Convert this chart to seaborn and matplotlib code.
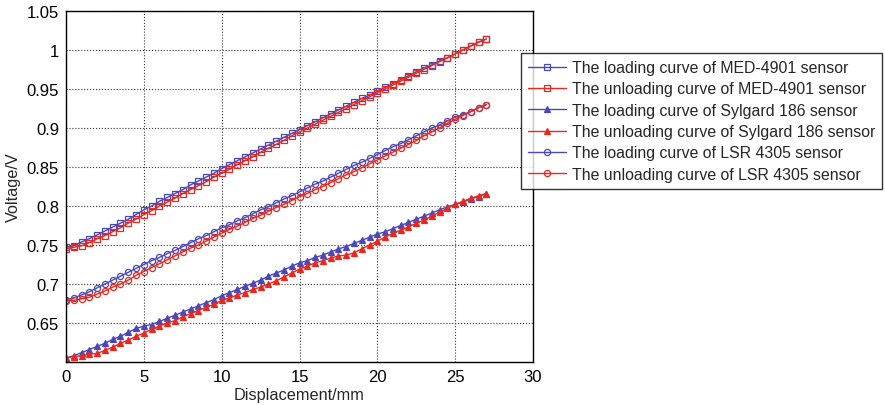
import numpy as np
import pandas as pd
import matplotlib
matplotlib.use("Agg")
import matplotlib.pyplot as plt
import seaborn as sns

disp = [i * 0.5 for i in range(55)]  # 0 .. 27 mm

med_load = [0.747, 0.749, 0.754, 0.758, 0.763, 0.768, 0.773, 0.778, 0.783, 0.789,
            0.795, 0.800, 0.806, 0.811, 0.816, 0.821, 0.827, 0.832, 0.837, 0.842,
            0.848, 0.853, 0.858, 0.863, 0.868, 0.873, 0.878, 0.883, 0.888, 0.893,
            0.898, 0.903, 0.908, 0.913, 0.918, 0.923, 0.928, 0.933, 0.938, 0.942,
            0.947, 0.952, 0.957, 0.962, 0.967, 0.972, 0.977, 0.981, 0.986, 0.990,
            0.995, 1.000, 1.005, 1.010, 1.014]
med_unload = [0.745, 0.747, 0.749, 0.753, 0.758, 0.762, 0.767, 0.772, 0.778, 0.783,
              0.789, 0.794, 0.800, 0.805, 0.810, 0.816, 0.821, 0.826, 0.831, 0.837,
              0.842, 0.847, 0.853, 0.858, 0.863, 0.869, 0.874, 0.879, 0.884, 0.890,
              0.895, 0.900, 0.905, 0.910, 0.915, 0.920, 0.925, 0.930, 0.935, 0.940,
              0.945, 0.950, 0.955, 0.960, 0.965, 0.970, 0.975, 0.980, 0.985, 0.990,
              0.995, 1.000, 1.005, 1.010, 1.014]
syl_load = [0.605, 0.608, 0.612, 0.616, 0.620, 0.624, 0.629, 0.633, 0.638, 0.643,
            0.646, 0.648, 0.652, 0.656, 0.660, 0.664, 0.668, 0.672, 0.676, 0.680,
            0.685, 0.689, 0.693, 0.697, 0.701, 0.705, 0.710, 0.714, 0.718, 0.723,
            0.727, 0.730, 0.734, 0.737, 0.741, 0.745, 0.748, 0.752, 0.756, 0.760,
            0.764, 0.767, 0.771, 0.775, 0.779, 0.783, 0.787, 0.791, 0.795, 0.799,
            0.802, 0.805, 0.809, 0.812, 0.816]
syl_unload = [0.605, 0.607, 0.608, 0.610, 0.611, 0.615, 0.619, 0.624, 0.628, 0.633,
              0.637, 0.642, 0.646, 0.650, 0.653, 0.658, 0.662, 0.666, 0.670, 0.674,
              0.679, 0.682, 0.686, 0.689, 0.693, 0.696, 0.700, 0.704, 0.709, 0.714,
              0.719, 0.723, 0.727, 0.730, 0.733, 0.736, 0.737, 0.740, 0.745, 0.750,
              0.755, 0.760, 0.765, 0.769, 0.773, 0.778, 0.782, 0.787, 0.792, 0.797,
              0.802, 0.806, 0.810, 0.813, 0.816]
lsr_load = [0.679, 0.682, 0.686, 0.690, 0.695, 0.700, 0.705, 0.710, 0.715, 0.720,
            0.725, 0.730, 0.734, 0.739, 0.743, 0.748, 0.753, 0.758, 0.762, 0.767,
            0.772, 0.776, 0.781, 0.785, 0.790, 0.795, 0.799, 0.804, 0.809, 0.813,
            0.818, 0.823, 0.828, 0.832, 0.837, 0.842, 0.847, 0.852, 0.856, 0.861,
            0.866, 0.871, 0.876, 0.880, 0.885, 0.890, 0.895, 0.900, 0.904, 0.909,
            0.914, 0.917, 0.921, 0.926, 0.930]
lsr_unload = [0.678, 0.679, 0.681, 0.683, 0.687, 0.691, 0.696, 0.700, 0.705, 0.711,
              0.716, 0.721, 0.726, 0.731, 0.736, 0.741, 0.746, 0.750, 0.755, 0.760,
              0.765, 0.770, 0.774, 0.779, 0.784, 0.788, 0.793, 0.798, 0.802, 0.807,
              0.812, 0.816, 0.821, 0.825, 0.830, 0.835, 0.840, 0.844, 0.849, 0.854,
              0.859, 0.864, 0.869, 0.874, 0.879, 0.884, 0.890, 0.895, 0.900, 0.906,
              0.911, 0.916, 0.921, 0.926, 0.930]

labels = ["The loading curve of MED-4901 sensor",
          "The unloading curve of MED-4901 sensor",
          "The loading curve of Sylgard 186 sensor",
          "The unloading curve of Sylgard 186 sensor",
          "The loading curve of LSR 4305 sensor",
          "The unloading curve of LSR 4305 sensor"]
series = [med_load, med_unload, syl_load, syl_unload, lsr_load, lsr_unload]
markers = ["s", "s", "^", "^", "o", "o"]
blue = "#4848bc"
red = "#e8281e"
colors = [blue, red, blue, red, blue, red]

sns.set_style("white")
plt.rcParams["font.family"] = ["Liberation Sans", "DejaVu Sans"]

fig = plt.figure(figsize=(8.85, 4.06), dpi=100)
ax = fig.add_axes([66 / 885, 1 - 363 / 406, (533 - 66) / 885, (363 - 12) / 406])

for vals, lab, mk, c in zip(series, labels, markers, colors):
    face = c if mk == "^" else "none"
    sns.lineplot(x=disp, y=vals, ax=ax, color=c, marker=mk, markersize=4.4,
                 markerfacecolor=face, markeredgecolor=c, markeredgewidth=0.9,
                 linewidth=1.0, label=lab, legend=False)

ax.set_xlim(0, 30)
ax.set_ylim(0.6, 1.05)
ax.set_xticks([0, 5, 10, 15, 20, 25, 30])
yt = [0.65, 0.7, 0.75, 0.8, 0.85, 0.9, 0.95, 1.0, 1.05]
ax.set_yticks(yt)
ax.set_yticklabels(["0.65", "0.7", "0.75", "0.8", "0.85", "0.9", "0.95", "1", "1.05"])
ax.tick_params(direction="in", length=4, labelsize=12, colors="black", width=0.8, pad=5)
ax.grid(True, linestyle=":", color="#333333", linewidth=0.8)
for s in ax.spines.values():
    s.set_color("black")
    s.set_linewidth(1.0)
ax.set_xlabel("Displacement/mm", fontsize=11.7, labelpad=2)
ax.set_ylabel("Voltage/V", fontsize=11.7, labelpad=4)

handles, labs = ax.get_legend_handles_labels()
leg = fig.legend(handles, labs, loc="upper left",
                 bbox_to_anchor=(521 / 885, 1 - 54 / 406),
                 fontsize=11.4, frameon=True, fancybox=False,
                 edgecolor="black", borderpad=0.45, labelspacing=0.4,
                 handlelength=2.4, handletextpad=0.35, borderaxespad=0)
leg.get_frame().set_linewidth(1.0)

fig.savefig("out.png", dpi=100)
